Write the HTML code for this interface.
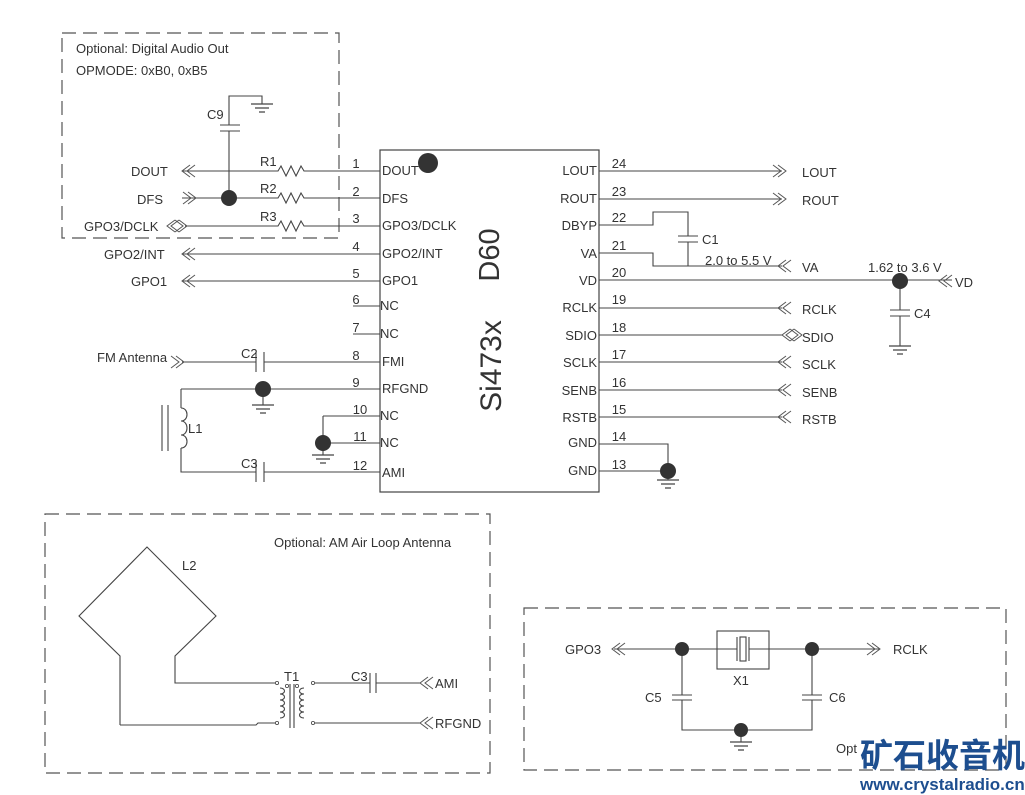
<!DOCTYPE html>
<html><head><meta charset="utf-8"><style>
body{margin:0;background:#fff}
svg{display:block;font-family:"Liberation Sans",Arial,sans-serif}
text{fill:#333;font-size:13px}
</style></head><body>
<svg width="1025" height="795" viewBox="0 0 1025 795" xmlns="http://www.w3.org/2000/svg">
<defs>
<g id="gnd"><path d="M-11 0H11M-7 4H7M-3 8H3" stroke="#444" stroke-width="1.2" fill="none"/></g>
<g id="al"><path d="M8 -6L0 0L8 6M13 -6L5 0L13 6" stroke="#555" stroke-width="1" fill="none"/></g>
<g id="ar"><path d="M-8 -6L0 0L-8 6M-13 -6L-5 0L-13 6" stroke="#555" stroke-width="1" fill="none"/></g>
<g id="ab"><path d="M8 -6L0 0L8 6M12 -6L4 0L12 6M12 -6L20 0L12 6M8 -6L16 0L8 6" stroke="#555" stroke-width="1" fill="none"/></g>
<g id="res"><path d="M0 0H16L19 -5L24 5L29 -5L34 5L39 -5L42 0H57" stroke="#444" stroke-width="1.1" fill="none"/></g>
</defs>
<g stroke="#555" stroke-width="1.2" fill="none" stroke-dasharray="14,7">
<rect x="62" y="33" width="277" height="205"/>
<rect x="45" y="514" width="445" height="259"/>
<rect x="524" y="608" width="482" height="162"/>
</g>
<text x="76" y="53">Optional: Digital Audio Out</text>
<text x="76" y="75">OPMODE: 0xB0, 0xB5</text>
<text x="274" y="547">Optional: AM Air Loop Antenna</text>
<text x="836" y="753">Opt</text>
<rect x="380" y="150" width="219" height="342" fill="none" stroke="#444" stroke-width="1.2"/>
<circle cx="428" cy="163" r="10" fill="#333"/>
<text transform="translate(499,255) rotate(-90)" text-anchor="middle" style="font-size:29px">D60</text>
<text transform="translate(501,366) rotate(-90)" text-anchor="middle" style="font-size:30px">Si473x</text>
<g stroke="#444" stroke-width="1.1" fill="none">
<path d="M182 171H262M319 171H380M182 198H262M319 198H380M185 226H262M319 226H380"/>
<path d="M182 254H380M182 281H380M353 306H380M353 334H380"/>
<path d="M182 362H256M264 362H380M181 389H380M181 389V408M181 448V472H256M264 472H380"/>
<path d="M323 416H380M323 416V443H380M323 443V455M263 389V405"/>
<path d="M256 352V372M264 352V372M256 462V482M264 462V482"/>
<path d="M181 408c8 0 8 13 0 13c8 0 8 14 0 14c8 0 8 13 0 13"/>
<path d="M162 405V451M168 405V451"/>
<path d="M229 198V131M229 125V96H262V104M220 125H240M220 131H240"/>
<path d="M599 171H782M599 199H782M599 225H653V212H688V236M599 253H653V266H782M688 242V266M678 236H698M678 242H698"/>
<path d="M599 280H952M599 308H782M599 335H782M599 362H782M599 390H782M599 417H782"/>
<path d="M599 444H668V471M599 471H668V480"/>
<path d="M900 281V310M900 316V346M890 310H910M890 316H910"/>
<path d="M120 725V656L79 616L147 547L216 616L175 656V683H275M120 725H256L258 723H275"/>
<path d="M315 683H370M376 683H420M370 673V693M376 673V693M315 723H420"/>
<path d="M280 688c6 0 6 6 0 6c6 0 6 6 0 6c6 0 6 6 0 6c6 0 6 6 0 6c6 0 6 6 0 6"/>
<path d="M304 688c-6 0 -6 6 0 6c-6 0 -6 6 0 6c-6 0 -6 6 0 6c-6 0 -6 6 0 6c-6 0 -6 6 0 6"/>
<path d="M290 684V728M294 684V728"/>
<path d="M614 649H737M749 649H880M737 637V661M749 637V661M682 649V695M682 700V730H812V700M812 649V695M672 695H692M672 700H692M802 695H822M802 700H822M741 730V742"/>
<rect x="717" y="631" width="52" height="38"/>
<rect x="740" y="637" width="6" height="24"/>
</g>
<g fill="none" stroke="#444" stroke-width="0.8"><circle cx="277" cy="683" r="1.6"/><circle cx="287" cy="686" r="1.6"/><circle cx="277" cy="723" r="1.6"/><circle cx="297" cy="686" r="1.6"/><circle cx="313" cy="683" r="1.6"/><circle cx="313" cy="723" r="1.6"/></g>
<use href="#res" x="262" y="171"/><use href="#res" x="262" y="198"/><use href="#res" x="262" y="226"/>
<g fill="#333"><circle cx="229" cy="198" r="8"/><circle cx="263" cy="389" r="8"/><circle cx="323" cy="443" r="8"/><circle cx="668" cy="471" r="8"/><circle cx="900" cy="281" r="8"/><circle cx="682" cy="649" r="7"/><circle cx="812" cy="649" r="7"/><circle cx="741" cy="730" r="7"/></g>
<use href="#gnd" x="262" y="104"/><use href="#gnd" x="263" y="405"/><use href="#gnd" x="323" y="455"/><use href="#gnd" x="668" y="480"/><use href="#gnd" x="900" y="346"/><use href="#gnd" x="741" y="742"/>
<use href="#al" x="182" y="171"/><use href="#ar" x="196" y="198"/><use href="#ab" x="167" y="226"/>
<use href="#al" x="182" y="254"/><use href="#al" x="182" y="281"/><use href="#ar" x="184" y="362"/>
<use href="#ar" x="786" y="171"/><use href="#ar" x="786" y="199"/>
<use href="#al" x="778" y="266"/><use href="#al" x="778" y="308"/><use href="#ab" x="782" y="335"/><use href="#al" x="778" y="362"/><use href="#al" x="778" y="390"/><use href="#al" x="778" y="417"/><use href="#al" x="939" y="281"/>
<use href="#al" x="420" y="683"/><use href="#al" x="420" y="723"/><use href="#al" x="612" y="649"/><use href="#ar" x="880" y="649"/>
<g>
<text x="131" y="176">DOUT</text><text x="137" y="204">DFS</text><text x="84" y="231">GPO3/DCLK</text>
<text x="104" y="259">GPO2/INT</text><text x="131" y="286">GPO1</text><text x="97" y="362">FM Antenna</text>
<text x="207" y="119">C9</text><text x="260" y="166">R1</text><text x="260" y="193">R2</text><text x="260" y="221">R3</text>
<text x="241" y="358">C2</text><text x="241" y="468">C3</text><text x="188" y="433">L1</text>
<g text-anchor="middle"><text x="356" y="168">1</text><text x="356" y="196">2</text><text x="356" y="223">3</text><text x="356" y="251">4</text><text x="356" y="278">5</text><text x="356" y="304">6</text><text x="356" y="332">7</text><text x="356" y="360">8</text><text x="356" y="387">9</text><text x="360" y="414">10</text><text x="360" y="441">11</text><text x="360" y="470">12</text>
<text x="619" y="168">24</text><text x="619" y="196">23</text><text x="619" y="222">22</text><text x="619" y="250">21</text><text x="619" y="277">20</text><text x="619" y="304">19</text><text x="619" y="332">18</text><text x="619" y="359">17</text><text x="619" y="387">16</text><text x="619" y="414">15</text><text x="619" y="441">14</text><text x="619" y="469">13</text></g>
<g><text x="382" y="175">DOUT</text><text x="382" y="203">DFS</text><text x="382" y="230">GPO3/DCLK</text><text x="382" y="258">GPO2/INT</text><text x="382" y="285">GPO1</text><text x="380" y="310">NC</text><text x="380" y="338">NC</text><text x="382" y="366">FMI</text><text x="382" y="393">RFGND</text><text x="380" y="420">NC</text><text x="380" y="447">NC</text><text x="382" y="477">AMI</text></g>
<g text-anchor="end"><text x="597" y="175">LOUT</text><text x="597" y="203">ROUT</text><text x="597" y="230">DBYP</text><text x="597" y="258">VA</text><text x="597" y="285">VD</text><text x="597" y="312">RCLK</text><text x="597" y="340">SDIO</text><text x="597" y="367">SCLK</text><text x="597" y="395">SENB</text><text x="597" y="422">RSTB</text><text x="597" y="447">GND</text><text x="597" y="475">GND</text></g>
<text x="802" y="177">LOUT</text><text x="802" y="205">ROUT</text><text x="702" y="244">C1</text><text x="705" y="265">2.0 to 5.5 V</text><text x="802" y="272">VA</text>
<text x="868" y="272">1.62 to 3.6 V</text><text x="955" y="287">VD</text><text x="914" y="318">C4</text>
<text x="802" y="314">RCLK</text><text x="802" y="342">SDIO</text><text x="802" y="369">SCLK</text><text x="802" y="397">SENB</text><text x="802" y="424">RSTB</text>
<text x="182" y="570">L2</text><text x="284" y="681">T1</text><text x="351" y="681">C3</text><text x="435" y="688">AMI</text><text x="435" y="728">RFGND</text>
<text x="565" y="654">GPO3</text><text x="893" y="654">RCLK</text><text x="733" y="685">X1</text><text x="645" y="702">C5</text><text x="829" y="702">C6</text>
</g>
<text x="860" y="767" style="font-size:33px;font-weight:bold;fill:#1d4e8f;font-family:'Noto Sans CJK SC',sans-serif">矿石收音机</text>
<text x="860" y="790" style="font-size:17px;font-weight:bold;fill:#1d4e8f">www.crystalradio.cn</text>
</svg>
</body></html>
